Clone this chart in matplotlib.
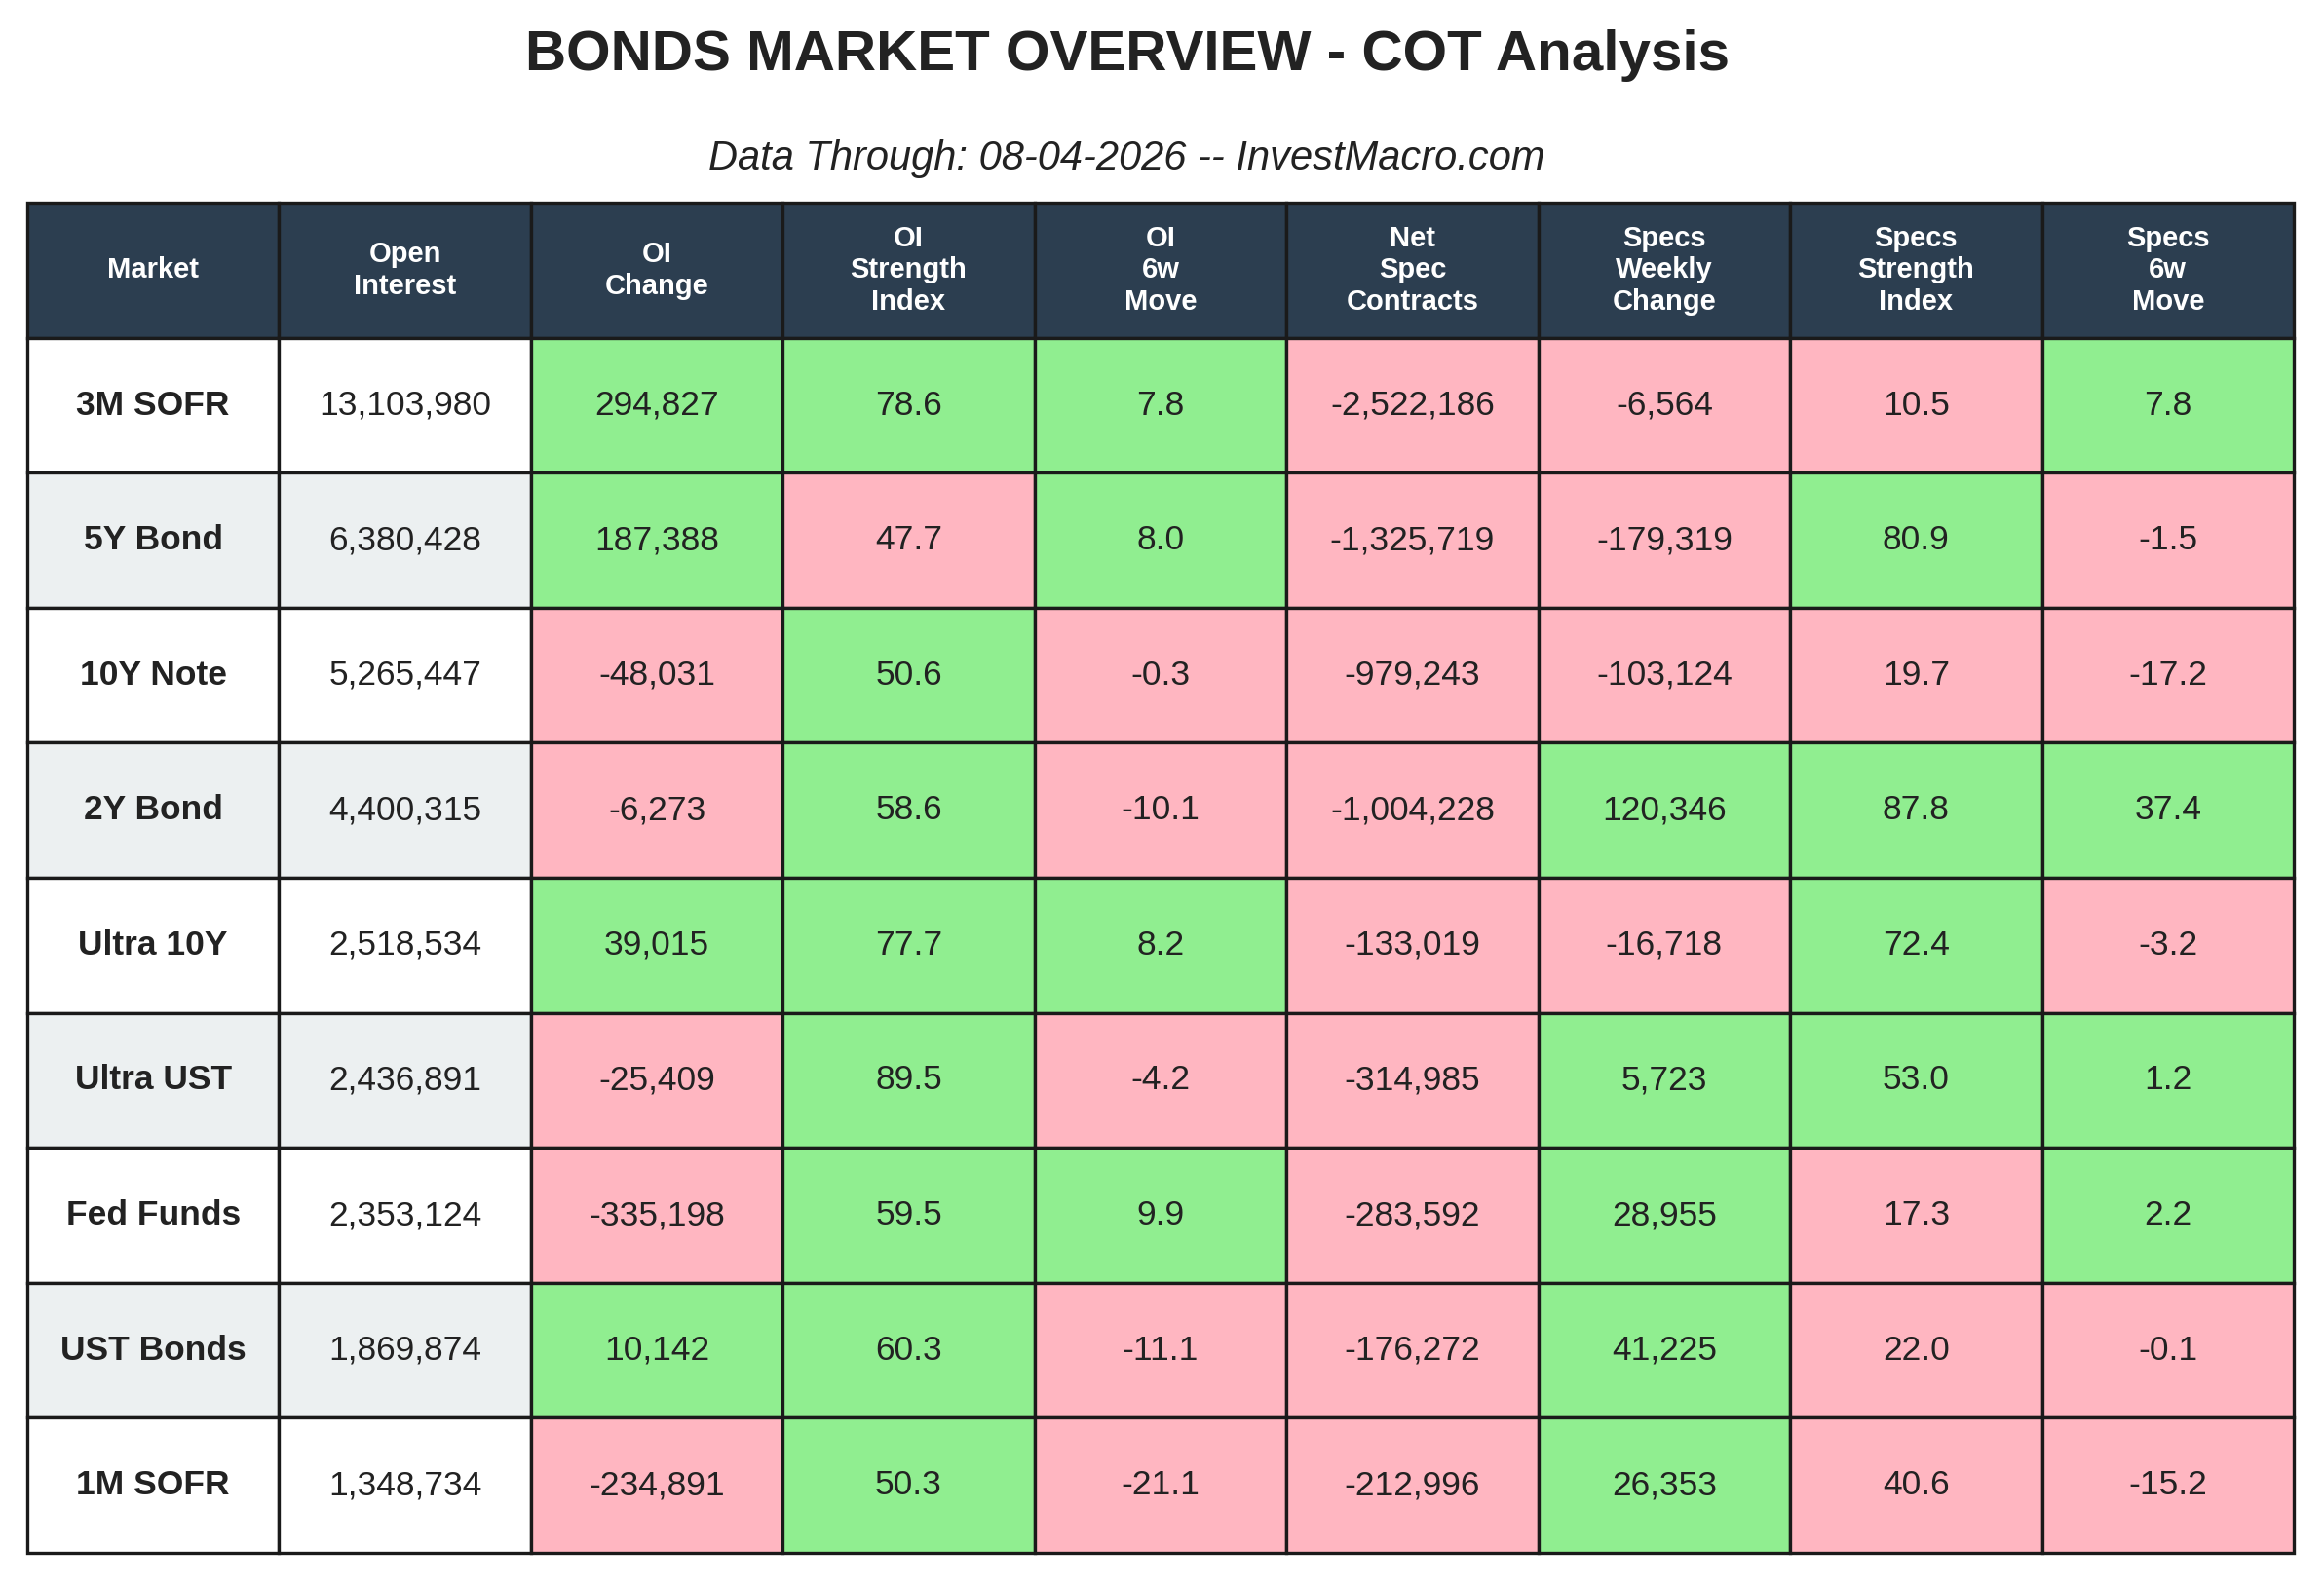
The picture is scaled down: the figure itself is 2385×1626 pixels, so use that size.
import matplotlib.pyplot as plt

plt.rcParams['font.family'] = ['Liberation Sans', 'DejaVu Sans']

markets = ['3M SOFR', '5Y Bond', '10Y Note', '2Y Bond', 'Ultra 10Y', 'Ultra UST', 'Fed Funds', 'UST Bonds', '1M SOFR']
open_interest = [13103980, 6380428, 5265447, 4400315, 2518534, 2436891, 2353124, 1869874, 1348734]
oi_change = [294827, 187388, -48031, -6273, 39015, -25409, -335198, 10142, -234891]
oi_strength = [78.6, 47.7, 50.6, 58.6, 77.7, 89.5, 59.5, 60.3, 50.3]
oi_6w_move = [7.8, 8.0, -0.3, -10.1, 8.2, -4.2, 9.9, -11.1, -21.1]
net_spec = [-2522186, -1325719, -979243, -1004228, -133019, -314985, -283592, -176272, -212996]
spec_weekly = [-6564, -179319, -103124, 120346, -16718, 5723, 28955, 41225, 26353]
spec_strength = [10.5, 80.9, 19.7, 87.8, 72.4, 53.0, 17.3, 22.0, 40.6]
spec_6w_move = [7.8, -1.5, -17.2, 37.4, -3.2, 1.2, 2.2, -0.1, -15.2]

headers = ['Market', 'Open\nInterest', 'OI\nChange', 'OI\nStrength\nIndex', 'OI\n6w\nMove',
           'Net\nSpec\nContracts', 'Specs\nWeekly\nChange', 'Specs\nStrength\nIndex', 'Specs\n6w\nMove']

GREEN, PINK = '#90ee90', '#ffb6c1'
HEAD = '#2c3e50'
ALT = '#ecf0f1'

cols = [open_interest, oi_change, oi_strength, oi_6w_move, net_spec, spec_weekly, spec_strength, spec_6w_move]
kinds = ['plain', 'sign', 'index', 'sign', 'sign', 'sign', 'index', 'sign']

cell_text, cell_colors = [], []
for i, m in enumerate(markets):
    base = 'white' if i % 2 == 0 else ALT
    row, colr = [m], [base]
    for vals, kind in zip(cols, kinds):
        v = vals[i]
        row.append(f'{v:,}' if isinstance(v, int) else f'{v:.1f}')
        if kind == 'plain':
            colr.append(base)
        elif kind == 'index':
            colr.append(GREEN if v > 50 else PINK)
        else:
            colr.append(GREEN if v > 0 else PINK)
    cell_text.append(row)
    cell_colors.append(colr)

fig = plt.figure(figsize=(15.9, 10.84), dpi=150)
ax = fig.add_axes([0, 0, 1, 1])
ax.axis('off')

fig.text(0.485, 0.965, 'BONDS MARKET OVERVIEW - COT Analysis', ha='center', va='center',
         fontsize=28, fontweight='bold', color='#222222')
fig.text(0.485, 0.900, 'Data Through: 08-04-2026 -- InvestMacro.com', ha='center', va='center',
         fontsize=20, style='italic', color='#222222')

tbl = ax.table(cellText=cell_text, colLabels=headers, cellColours=cell_colors,
               cellLoc='center', bbox=[0.0117, 0.0197, 0.9753, 0.8523])
tbl.auto_set_font_size(False)
for (r, c), cell in tbl.get_celld().items():
    cell.set_edgecolor('#1a1a1a')
    cell.set_linewidth(1.6)
    if r == 0:
        cell.set_facecolor(HEAD)
        cell.get_text().set_color('white')
        cell.get_text().set_fontweight('bold')
        cell.get_text().set_fontsize(14)
    else:
        cell.get_text().set_fontsize(17)
        cell.get_text().set_color('#222222')
        if c == 0:
            cell.get_text().set_fontweight('bold')

fig.savefig('out.png', dpi=150)
